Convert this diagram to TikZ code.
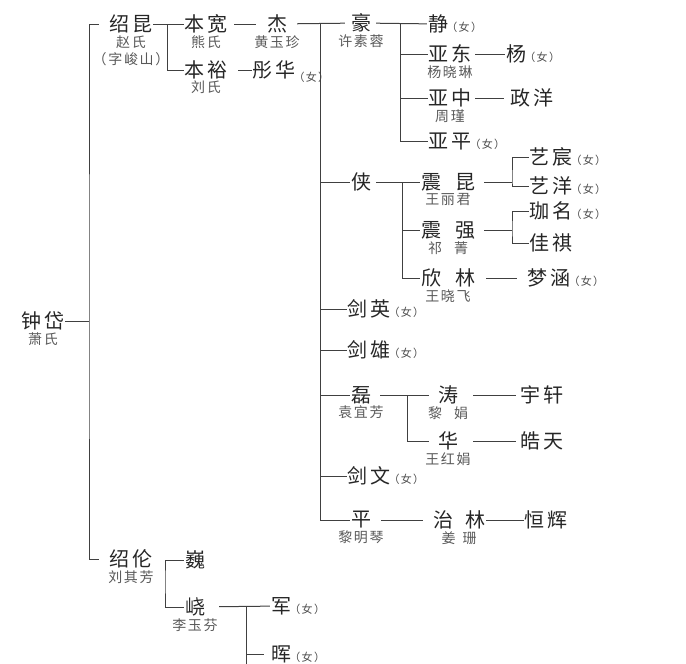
\documentclass[tikz,border=0pt]{standalone}
\usepackage{fontspec}
\usepackage{tikz}
\usetikzlibrary{positioning}
\newfontfamily\cjk[LetterSpace=12]{Noto Sans CJK SC}
\tikzset{
  link/.style={line width=1pt, draw=black!75},
  every node/.style={anchor=center}
}

\begin{document}
\begin{tikzpicture}[
  x=1pt, y=-1pt,
  nm/.style={font=\cjk\fontsize{20}{20}\selectfont, text=black!85, inner xsep=1pt, inner ysep=1pt},
  sp/.style={font=\cjk\fontsize{14}{17}\selectfont, text=black!65, inner sep=0pt, align=center},
  fem/.style={font=\cjk\fontsize{11}{11}\selectfont, text=black!70, inner sep=0pt, anchor=base west, xshift=-3pt}
]
\useasboundingbox (0,0) rectangle (686,664);

% founder and sons
\node[nm] (zhongdai) at (43,321) {钟岱};
\node[sp, below=1pt of zhongdai] (zhongdaisp) {萧氏};
\node[nm] (shaokun) at (131,24) {绍昆};
\node[sp, below=1pt of shaokun] (shaokunsp) {赵氏\\（字峻山）};
\node[nm] (shaolun) at (131,559) {绍伦};
\node[sp, below=1pt of shaolun] (shaolunsp) {刘其芳};

% third generation
\node[nm] (benkuan) at (206,24) {本宽};
\node[sp, below=1pt of benkuan] (benkuansp) {熊氏};
\node[nm] (benyu) at (206,70) {本裕};
\node[sp, below=0pt of benyu] (benyusp) {刘氏};
\node[nm] (wei) at (195,560) {巍};
\node[nm] (yao) at (195,607) {峣};
\node[sp, below=1pt of yao] (yaosp) {李玉芬};

% fourth generation
\node[nm] (jie) at (277,24) {杰};
\node[sp, below=1pt of jie] (jiesp) {黄玉珍};
\node[nm] (tonghua) at (274,70) {彤华};
\node[fem, yshift=-4pt] (tonghuaf) at (tonghua.base east) {（女）};
\node[nm] (jun) at (281,606) {军};
\node[fem] (junf) at (jun.base east) {（女）};
\node[nm] (hui) at (281,654) {晖};
\node[fem] (huif) at (hui.base east) {（女）};

% children of jie
\node[nm] (hao) at (361,23) {豪};
\node[sp, below=1pt of hao] (haosp) {许素蓉};
\node[nm] (xia) at (361,182) {侠};
\node[nm] (jianying) at (369,309) {剑英};
\node[fem] (jianyingf) at (jianying.base east) {（女）};
\node[nm] (jianxiong) at (369,350) {剑雄};
\node[fem] (jianxiongf) at (jianxiong.base east) {（女）};
\node[nm] (lei) at (361,395) {磊};
\node[sp, below=1pt of lei] (leisp) {袁宜芳};
\node[nm] (jianwen) at (369,476) {剑文};
\node[fem] (jianwenf) at (jianwen.base east) {（女）};
\node[nm] (ping) at (361,520) {平};
\node[sp, below=1pt of ping] (pingsp) {黎明琴};

% sixth generation
\node[nm] (jing) at (438,24) {静};
\node[fem] (jingf) at (jing.base east) {（女）};
\node[nm] (yadong) at (450,54) {亚东};
\node[sp, below=1pt of yadong] (yadongsp) {杨晓琳};
\node[nm] (yazhong) at (450,98) {亚中};
\node[sp, below=1pt of yazhong] (yazhongsp) {周瑾};
\node[nm] (yaping) at (450,141) {亚平};
\node[fem] (yapingf) at (yaping.base east) {（女）};
\node[nm] (zhenkun) at (448,182) {震\hspace{14pt}昆};
\node[sp, below=1pt of zhenkun] (zhenkunsp) {王丽君};
\node[nm] (zhenqiang) at (448,230) {震\hspace{14pt}强};
\node[sp, below=1pt of zhenqiang] (zhenqiangsp) {祁\hspace{12pt}菁};
\node[nm] (xinlin) at (448,278) {欣\hspace{14pt}林};
\node[sp, below=1pt of xinlin] (xinlinsp) {王晓飞};
\node[nm] (tao) at (448,395) {涛};
\node[sp, below=1pt of tao] (taosp) {黎\hspace{12pt}娟};
\node[nm] (hua) at (448,441) {华};
\node[sp, below=1pt of hua] (huasp) {王红娟};
\node[nm] (zhilin) at (459,520) {治\hspace{12pt}林};
\node[sp, below=1pt of zhilin] (zhilinsp) {姜\hspace{7pt}珊};

% seventh generation
\node[nm] (yang) at (516,54) {杨};
\node[fem] (yangf) at (yang.base east) {（女）};
\node[nm] (zhengyang) at (532,98) {政洋};
\node[nm] (yichen) at (551,157) {艺宸};
\node[fem] (yichenf) at (yichen.base east) {（女）};
\node[nm] (yiyang) at (551,186) {艺洋};
\node[fem] (yiyangf) at (yiyang.base east) {（女）};
\node[nm] (jiaming) at (551,211) {珈名};
\node[fem] (jiamingf) at (jiaming.base east) {（女）};
\node[nm] (jiaqi) at (551,243) {佳祺};
\node[nm] (menghan) at (549,278) {梦涵};
\node[fem] (menghanf) at (menghan.base east) {（女）};
\node[nm] (yuxuan) at (542,395) {宇轩};
\node[nm] (haotian) at (542,441) {皓天};
\node[nm] (henghui) at (546,520) {恒辉};

% junctions
\coordinate (ja) at (89,0);
\coordinate (jb) at (167,0);
\coordinate (jc) at (320,0);
\coordinate (jd) at (400,0);
\coordinate (je) at (402,0);
\coordinate (jf) at (512,0);
\coordinate (jg) at (407,0);
\coordinate (jh) at (165,580);
\coordinate (ji) at (246,0);
\coordinate (cut) at (246,664);

% trunk
\draw[link] (zhongdai) -- (zhongdai -| ja);
\draw[link, shorten <=10pt, shorten >=10pt] (shaokun.west) -| (ja |- zhongdai) |- (shaolun.west);

% shaokun branch
\draw[link] (shaokun) -- (benkuan);
\draw[link] (jb |- benkuan) |- (benyu.west);
\draw[link, shorten <=6pt, shorten >=10pt] (benkuan) -- (jie);
\draw[link, shorten <=10pt] (benyu) -- (tonghua);
\draw[link, shorten <=9pt, shorten >=5pt] (jie) -- (hao);
\draw[link] (jc |- hao) |- (ping.west);
\foreach \n in {xia,jianying,jianxiong,lei,jianwen}
  \draw[link] (jc |- \n) -- (\n.west);

% hao
\draw[link, shorten <=4pt] (hao) -- (jing);
\draw[link] (jd |- jing) |- (yaping.west);
\foreach \n in {yadong,yazhong}
  \draw[link] (jd |- \n) -- (\n.west);
\draw[link, shorten <=3pt] (yadong) -- (yang);
\draw[link, shorten <=3pt, shorten >=6pt] (yazhong) -- (zhengyang);

% xia
\draw[link, shorten <=4pt] (xia) -- (zhenkun);
\draw[link] (je |- zhenkun) |- (xinlin.west);
\draw[link] (je |- zhenqiang) -- (zhenqiang.west);
\draw[link, shorten <=8pt] (zhenkun) -- (zhenkun -| jf);
\draw[link] (yichen.west) -| (jf |- zhenkun) |- (yiyang.west);
\draw[link, shorten <=8pt] (zhenqiang) -- (zhenqiang -| jf);
\draw[link] (jiaming.west) -| (jf |- zhenqiang) |- (jiaqi.west);
\draw[link, shorten <=10pt, shorten >=10pt] (xinlin) -- (menghan);

% lei and ping
\draw[link, shorten <=8pt, shorten >=8pt] (lei) -- (tao);
\draw[link, shorten >=8pt] (jg |- tao) |- (hua.west);
\draw[link, shorten <=14pt, shorten >=4pt] (tao) -- (yuxuan);
\draw[link, shorten <=14pt, shorten >=4pt] (hua) -- (haotian);
\draw[link, shorten <=9pt, shorten >=9pt] (ping) -- (zhilin);
\draw[link] (zhilin) -- (henghui);

% shaolun branch
\draw[link] (wei.west) -| (jh) |- (yao.west);
\draw[link, shorten <=13pt] (yao) -- (jun);
\draw[link] (ji |- jun) -- (cut);
\draw[link, shorten >=6pt] (ji |- hui) -- (hui.west);

\end{tikzpicture}
\end{document}
